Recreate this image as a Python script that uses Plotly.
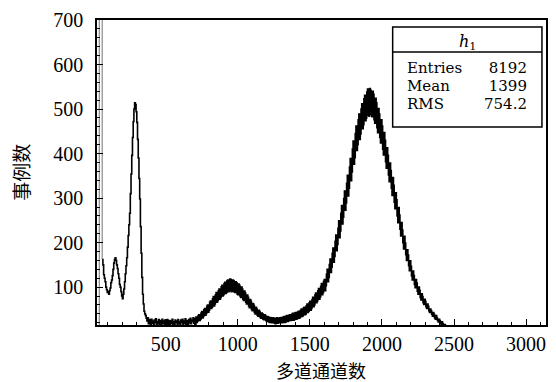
import numpy as np
import plotly.graph_objects as go

# ---- data (5-channel bins, counts) ----
bin_start = 35
bin_width = 5
counts = [
    0, 1500, 1500, 1500, 1500,
    # 60-355
    162, 150, 128, 120, 112, 100, 94, 88, 90, 84,
    92, 98, 110, 116, 126, 140, 154, 162, 166, 160,
    150, 142, 130, 120, 106, 100, 90, 80, 74, 84,
    96, 112, 130, 148, 166, 190, 216, 240, 266, 310,
    354, 396, 436, 472, 500, 514, 510, 494, 470, 432,
    390, 344, 298, 236, 176, 122, 84, 62, 46, 40,
    # 360-695
    36, 30, 24, 31, 18, 27, 22, 15, 28, 19,
    24, 14, 26, 21, 29, 16, 23, 18, 27, 13,
    22, 25, 15, 28, 19, 24, 14, 26, 17, 23,
    27, 15, 21, 25, 13, 24, 19, 28, 16, 22,
    14, 26, 20, 24, 15, 27, 18, 23, 14, 26,
    21, 28, 16, 24, 19, 29, 17, 25, 22, 15,
    27, 20, 30, 18, 26, 23, 31, 19,
    # 700-995
    29, 16, 33, 21, 24, 36, 38, 25, 28, 42,
    45, 31, 34, 49, 52, 37, 41, 57, 60, 44,
    48, 66, 69, 52, 55, 74, 79, 58, 62, 83,
    88, 66, 70, 92, 96, 73, 77, 101, 104, 80,
    83, 108, 111, 86, 88, 114, 116, 90, 92, 118,
    117, 90, 91, 116, 114, 89, 88, 112, 110, 85,
    # 1000-1295
    83, 107, 104, 80, 77, 100, 96, 73, 70, 91,
    87, 66, 62, 82, 77, 58, 54, 72, 68, 50,
    47, 63, 59, 43, 40, 55, 51, 37, 35, 48,
    45, 32, 30, 42, 40, 28, 27, 38, 36, 25,
    23, 34, 33, 22, 21, 32, 31, 20, 20, 31,
    30, 19, 18, 30, 31, 19, 20, 30, 31, 20,
    # 1300-1595
    32, 20, 21, 33, 34, 21, 22, 35, 36, 23,
    24, 37, 38, 25, 26, 39, 41, 26, 27, 42,
    43, 28, 29, 44, 46, 30, 32, 48, 51, 34,
    36, 53, 55, 38, 40, 58, 62, 43, 46, 65,
    68, 48, 52, 72, 77, 56, 60, 82, 87, 65,
    69, 92, 97, 73, 78, 102, 108, 83, 88, 113,
    # 1600-1995
    117, 92, 103, 129, 140, 112, 122, 151, 163, 133,
    145, 176, 188, 156, 169, 203, 217, 182, 196, 232,
    249, 211, 226, 266, 283, 242, 257, 299, 316, 273,
    289, 333, 351, 305, 322, 370, 389, 339, 359, 410,
    428, 376, 391, 445, 462, 407, 420, 476, 489, 432,
    444, 500, 512, 456, 465, 523, 531, 474, 480, 538,
    545, 486, 484, 546, 542, 488, 483, 540, 533, 476,
    468, 524, 514, 458, 447, 501, 489, 436, 424, 476,
    # 2000-2445
    462, 410, 397, 447, 430, 382, 367, 413, 396, 352,
    337, 379, 362, 322, 306, 346, 329, 291, 276, 312,
    296, 260, 245, 279, 262, 230, 215, 245, 228, 200,
    186, 214, 199, 173, 160, 184, 172, 148, 137, 159,
    147, 125, 116, 136, 126, 106, 99, 117, 109, 91,
    84, 100, 93, 77, 71, 85, 79, 65, 61, 73,
    68, 56, 52, 62, 57, 47, 43, 51, 47, 39,
    35, 43, 39, 31, 28, 36, 31, 25, 22, 28,
    25, 19, 16, 22, 18, 14, 11, 16, 13, 10,
    # tail
    9, 10, 7, 8, 6, 5,
]
x_tick_vals = [500, 1000, 1500, 2000, 2500, 3000]
y_tick_vals = [100, 200, 300, 400, 500, 600, 700]
x_title = "多道通道数"
y_title = "事例数"
stats_name = "<i>h</i><sub>1</sub>"
stats_labels = ["Entries", "Mean", "RMS"]
stats_values = ["8192", "1399", "754.2"]

edges = bin_start + bin_width * np.arange(len(counts))
n_spike = 6  # leading off-scale channels, drawn thin/grey as in the original

SERIF = "Liberation Serif"
BOXFONT = "DejaVu Serif"
CJK = "Noto Sans CJK SC"

fig = go.Figure()
fig.add_trace(go.Scatter(
    x=edges[:n_spike], y=counts[:n_spike], mode="lines",
    line=dict(color="#8a8a8a", width=1.2, shape="hv"),
    hoverinfo="skip", showlegend=False,
))
fig.add_trace(go.Scatter(
    x=edges[n_spike - 1:], y=counts[n_spike - 1:], mode="lines",
    line=dict(color="black", width=1.6, shape="hv"),
    hoverinfo="skip", showlegend=False,
))

axis_common = dict(
    showline=True, linecolor="black", linewidth=1.5, mirror=True,
    ticks="inside", tickcolor="black", showgrid=False, zeroline=False,
    tickfont=dict(family=SERIF, size=20, color="black"),
)
fig.update_xaxes(range=[24, 3138], tickvals=x_tick_vals, ticklen=6, tickwidth=1,
                 minor=dict(dtick=100, tick0=0, ticks="inside", ticklen=3, tickcolor="black"),
                 **axis_common)
fig.update_yaxes(range=[15, 700], tickvals=y_tick_vals, ticklen=6, tickwidth=1,
                 ticklabelstandoff=8,
                 minor=dict(dtick=20, tick0=0, ticks="inside", ticklen=3, tickcolor="black"),
                 **axis_common)

# stats box (paper coords)
bx0, bx1 = 0.6585, 0.991
by_top, by_sep, by_bot = 0.977, 0.895, 0.649
fig.add_shape(type="rect", xref="paper", yref="paper", x0=bx0, x1=bx1, y0=by_bot, y1=by_top,
              line=dict(color="black", width=1.5), fillcolor="white", layer="above")
fig.add_shape(type="line", xref="paper", yref="paper", x0=bx0, x1=bx1, y0=by_sep, y1=by_sep,
              line=dict(color="black", width=1.5), layer="above")
fig.add_annotation(xref="paper", yref="paper", x=(bx0 + bx1) / 2, y=0.9246, text=stats_name,
                   showarrow=False, font=dict(family=BOXFONT, size=16, color="black"),
                   xanchor="center", yanchor="middle")

def rows(items, px=15):
    return "<br>".join("<span style='font-size:%dpx'>%s</span>" % (px, s) for s in items)

# small base size keeps the line pitch tight, spans carry the real glyph size
stats_font = dict(family=BOXFONT, size=14, color="black")
fig.add_annotation(xref="paper", yref="paper", x=0.687, y=0.783, text=rows(stats_labels),
                   showarrow=False, font=stats_font, xanchor="left", yanchor="middle", align="left")
fig.add_annotation(xref="paper", yref="paper", x=0.962, y=0.783, text=rows(stats_values),
                   showarrow=False, font=stats_font, xanchor="right", yanchor="middle", align="right")

# axis titles
fig.add_annotation(xref="paper", yref="paper", x=0.499, y=-0.146, text=x_title, showarrow=False,
                   font=dict(family=CJK, size=18, color="black"), xanchor="center", yanchor="middle")
fig.add_annotation(xref="paper", yref="paper", x=-0.171, y=0.5, text=y_title, showarrow=False,
                   textangle=-90, font=dict(family=CJK, size=19, color="black"),
                   xanchor="center", yanchor="middle")

fig.update_layout(
    width=556, height=382, margin=dict(l=97, r=8, t=20, b=57),
    paper_bgcolor="white", plot_bgcolor="white",
)
fig.write_html("out.html")
